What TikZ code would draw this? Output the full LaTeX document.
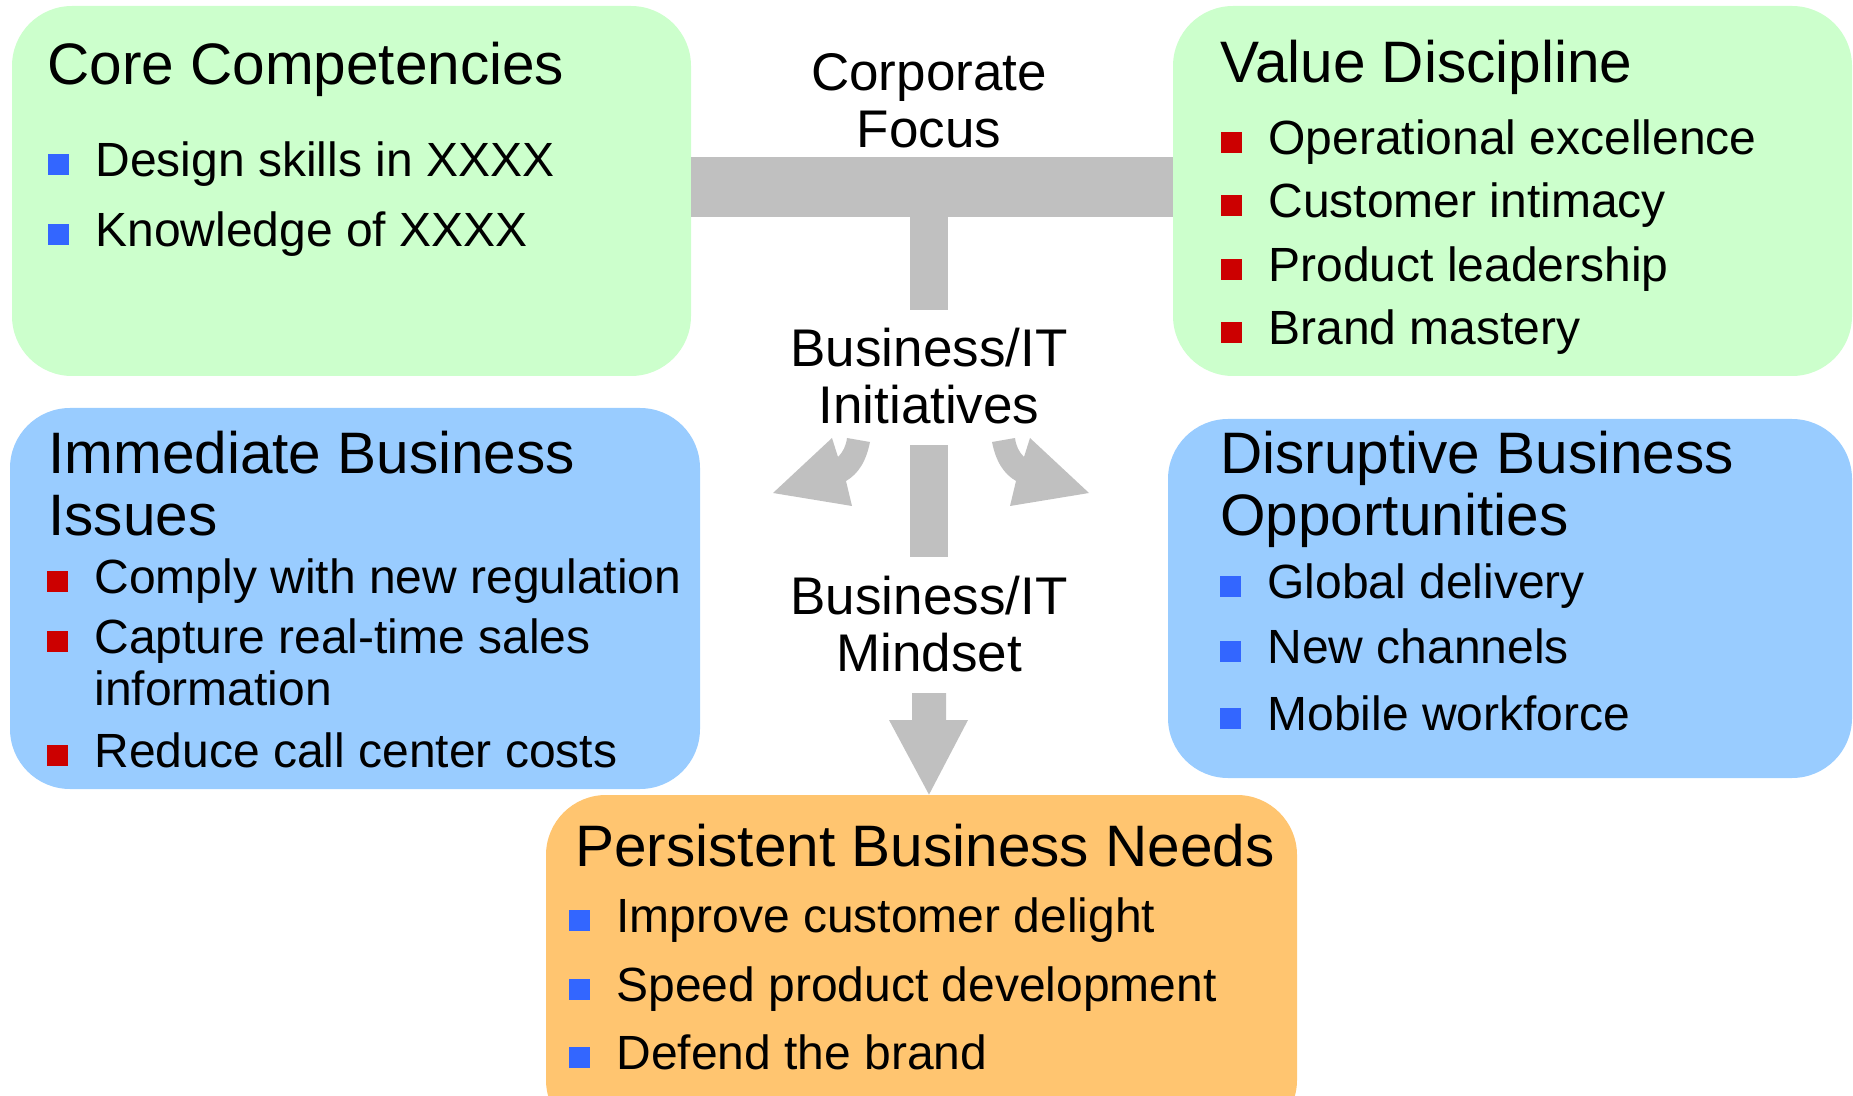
\documentclass[tikz,border=0pt]{standalone}
\usepackage{fontspec}
\setmainfont{Liberation Sans}
\usetikzlibrary{fit}

\definecolor{boxgreen}{HTML}{CCFFCC}
\definecolor{boxblue}{HTML}{99CCFF}
\definecolor{boxorange}{HTML}{FFC570}
\definecolor{blockgrey}{HTML}{C0C0C0}
\definecolor{bulred}{HTML}{CC0000}
\definecolor{bulblue}{HTML}{3366FF}

\tikzset{
  box/.style={rounded corners=30pt, inner sep=0pt},
  boxtitle/.style={anchor=base west, align=left, inner sep=0pt, font=\fontsize{29.25}{31.5}\selectfont},
  item/.style={anchor=base west, align=left, inner sep=0pt, font=\fontsize{24}{26}\selectfont},
  midlabel/.style={anchor=base, align=center, inner sep=0pt, font=\fontsize{26.5}{28.5}\selectfont},
  redsq/.style={fill=bulred, minimum size=10.5pt, inner sep=0pt},
  bluesq/.style={fill=bulblue, minimum size=10.5pt, inner sep=0pt},
  block/.style={fill=blockgrey}
}

\begin{document}
\begin{tikzpicture}[x=0.5pt, y=-0.5pt]
\useasboundingbox (0,0) rectangle (1853,1096);

% the five boxes
\node [box, fill=boxgreen, fit={(12,6) (691,376)}] (core) {};
\node [box, fill=boxgreen, fit={(1173,6) (1852,376)}] (value) {};
\node [box, fill=boxblue, fit={(10,408) (700,789)}] (immediate) {};
\node [box, fill=boxblue, fit={(1168,419) (1852,778)}] (disruptive) {};
\node [box, fill=boxorange, fit={(546,795) (1297,1140)}] (persistent) {};

% Core Competencies
\node [boxtitle] (coreT) at (47,85) {Core Competencies};
\node [bluesq] (core1b) at (58.5,165) {};
\node [item] (core1) at (95,177) {Design skills in XXXX};
\node [bluesq] (core2b) at (58.5,235) {};
\node [item] (core2) at (95,247) {Knowledge of XXXX};

% Value Discipline
\node [boxtitle] (valueT) at (1220,83) {Value Discipline};
\node [redsq] (value1b) at (1231,143) {};
\node [item] (value1) at (1268,155) {Operational excellence};
\node [redsq] (value2b) at (1231,206) {};
\node [item] (value2) at (1268,218) {Customer intimacy};
\node [redsq] (value3b) at (1231,270) {};
\node [item] (value3) at (1268,282) {Product leadership};
\node [redsq] (value4b) at (1231,333) {};
\node [item] (value4) at (1268,345) {Brand mastery};

% Immediate Business Issues (base = last line)
\node [boxtitle] (immT) at (48,536) {Immediate Business\\Issues};
\node [redsq] (imm1b) at (57.5,581) {};
\node [item] (imm1) at (94,593) {Comply with new regulation};
\node [redsq] (imm2b) at (57.5,641) {};
\node [item] (imm2) at (94,705) {Capture real-time sales\\information};
\node [redsq] (imm3b) at (57.5,755) {};
\node [item] (imm3) at (94,767) {Reduce call center costs};

% Disruptive Business Opportunities
\node [boxtitle] (disT) at (1220,536) {Disruptive Business\\Opportunities};
\node [bluesq] (dis1b) at (1230.5,586) {};
\node [item] (dis1) at (1267,598) {Global delivery};
\node [bluesq] (dis2b) at (1230.5,651) {};
\node [item] (dis2) at (1267,663) {New channels};
\node [bluesq] (dis3b) at (1230.5,718) {};
\node [item] (dis3) at (1267,730) {Mobile workforce};

% Persistent Business Needs
\node [boxtitle] (perT) at (575,866) {Persistent Business Needs};
\node [bluesq] (per1b) at (579.5,920) {};
\node [item] (per1) at (616,932) {Improve customer delight};
\node [bluesq] (per2b) at (579.5,989) {};
\node [item] (per2) at (616,1001) {Speed product development};
\node [bluesq] (per3b) at (579.5,1057) {};
\node [item] (per3) at (616,1069) {Defend the brand};

% centre labels
\node [midlabel] (focus) at (929,148) {Corporate\\Focus};
\node [midlabel] (initiatives) at (929,424) {Business/IT\\Initiatives};
\node [midlabel] (mindset) at (929,671) {Business/IT\\Mindset};

% grey T and arrows
\fill [block] (core.east |- 0,157) rectangle (value.west |- 0,217);
\fill [block] (910,217) rectangle (948,310);
\fill [block] (910,445) rectangle (948,557);
\fill [block] (847,438) -- (870,442) .. controls (866,462) and (858,474) .. (846,481)
  -- (852,506) -- (773,493) -- (832,438) -- (838,457)
  .. controls (843,452) and (846,446) .. (847,438) -- cycle;
\fill [block] (1015,438) -- (992,442) .. controls (996,462) and (1004,474) .. (1016,481)
  -- (1010,506) -- (1089,493) -- (1030,438) -- (1024,457)
  .. controls (1019,452) and (1016,446) .. (1015,438) -- cycle;
\fill [block] (912,693) -- (946,693) -- (946,720) -- (968,720)
  -- (929,0 |- persistent.north) -- (889,720) -- (912,720) -- cycle;
\end{tikzpicture}
\end{document}
